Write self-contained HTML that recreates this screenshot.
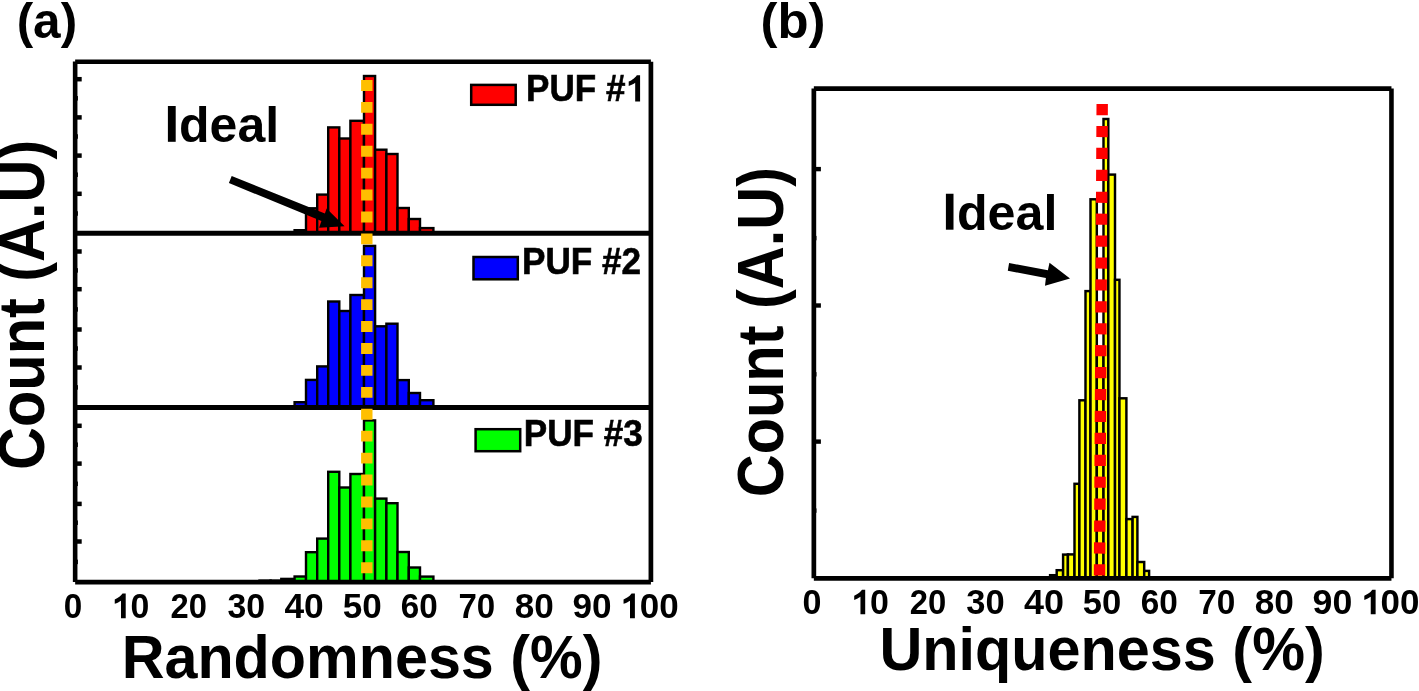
<!DOCTYPE html>
<html><head><meta charset="utf-8"><style>
html,body{margin:0;padding:0;background:#fff;width:1419px;height:691px;overflow:hidden}
svg{display:block;will-change:transform}
text{font-family:"Liberation Sans",sans-serif;font-weight:bold;font-kerning:none}
</style></head><body>
<svg width="1419" height="691" viewBox="0 0 1419 691">
<rect width="1419" height="691" fill="#fff"/>
<g fill="#ff0000" stroke="#000" stroke-width="2.4"><rect x="294.6" y="230.2" width="11.4" height="3.1"/><rect x="306" y="208.3" width="11.2" height="25"/><rect x="317.2" y="194.6" width="11" height="38.7"/><rect x="328.2" y="127.4" width="11.1" height="105.9"/><rect x="339.3" y="138.5" width="11.1" height="94.8"/><rect x="350.4" y="120.8" width="13.6" height="112.5"/><rect x="364" y="76" width="11.1" height="157.3"/><rect x="375.1" y="149.7" width="11.3" height="83.6"/><rect x="386.4" y="154" width="11.1" height="79.3"/><rect x="397.5" y="208" width="11.3" height="25.3"/><rect x="408.8" y="219" width="11.2" height="14.3"/><rect x="420" y="228.1" width="13.4" height="5.2"/></g>
<g fill="#0000ff" stroke="#000" stroke-width="2.4"><rect x="294.6" y="402.2" width="11.4" height="5.3"/><rect x="306" y="379.9" width="11.2" height="27.6"/><rect x="317.2" y="366.4" width="11" height="41.1"/><rect x="328.2" y="301.5" width="11.1" height="106"/><rect x="339.3" y="311" width="11.1" height="96.5"/><rect x="350.4" y="295" width="13.6" height="112.5"/><rect x="364" y="245.9" width="11.1" height="161.6"/><rect x="375.1" y="326.3" width="11.3" height="81.2"/><rect x="386.4" y="323.7" width="11.1" height="83.8"/><rect x="397.5" y="380.1" width="11.3" height="27.4"/><rect x="408.8" y="393" width="11.2" height="14.5"/><rect x="420" y="400.2" width="13.4" height="7.3"/></g>
<g fill="#00ff00" stroke="#000" stroke-width="2.4"><rect x="259.5" y="580.6" width="11.1" height="1.5"/><rect x="270.6" y="580.6" width="10.7" height="1.5"/><rect x="281.3" y="578.9" width="13.3" height="3.2"/><rect x="294.6" y="576.5" width="11.4" height="5.6"/><rect x="306" y="552.2" width="11.2" height="29.9"/><rect x="317.2" y="538.6" width="11" height="43.5"/><rect x="328.2" y="471.8" width="11.1" height="110.3"/><rect x="339.3" y="487.5" width="11.1" height="94.6"/><rect x="350.4" y="474" width="13.6" height="108.1"/><rect x="364" y="420.4" width="11.1" height="161.7"/><rect x="375.1" y="498.6" width="11.3" height="83.5"/><rect x="386.4" y="503.2" width="11.1" height="78.9"/><rect x="397.5" y="552" width="11.3" height="30.1"/><rect x="408.8" y="567.5" width="11.2" height="14.6"/><rect x="420" y="576.6" width="13.4" height="5.5"/></g>
<g stroke="#000" fill="none">
<line x1="75.15" y1="61.5" x2="75.15" y2="582.1" stroke-width="4.6"/>
<line x1="75.15" y1="61.7" x2="650.9" y2="61.7" stroke-width="4.6"/>
<line x1="650.9" y1="61.7" x2="650.9" y2="582.1" stroke-width="4.7"/>
<line x1="75.15" y1="582.1" x2="650.9" y2="582.1" stroke-width="4.9"/>
<line x1="75" y1="233.3" x2="651" y2="233.3" stroke-width="5"/>
<line x1="75" y1="407.5" x2="651" y2="407.5" stroke-width="5"/>
<line x1="75" y1="79.2" x2="81.7" y2="79.2" stroke-width="4.5"/>
<line x1="75" y1="117.4" x2="81.7" y2="117.4" stroke-width="4.5"/>
<line x1="75" y1="155.6" x2="81.7" y2="155.6" stroke-width="4.5"/>
<line x1="75" y1="193.8" x2="81.7" y2="193.8" stroke-width="4.5"/>
<line x1="75" y1="251.5" x2="81.7" y2="251.5" stroke-width="4.5"/>
<line x1="75" y1="289.2" x2="81.7" y2="289.2" stroke-width="4.5"/>
<line x1="75" y1="329.5" x2="81.7" y2="329.5" stroke-width="4.5"/>
<line x1="75" y1="367.5" x2="81.7" y2="367.5" stroke-width="4.5"/>
<line x1="75" y1="425.8" x2="81.7" y2="425.8" stroke-width="4.5"/>
<line x1="75" y1="463.6" x2="81.7" y2="463.6" stroke-width="4.5"/>
<line x1="75" y1="503.9" x2="81.7" y2="503.9" stroke-width="4.5"/>
<line x1="75" y1="541.5" x2="81.7" y2="541.5" stroke-width="4.5"/>
<line x1="75" y1="98.3" x2="77.9" y2="98.3" stroke-width="4.5"/>
<line x1="75" y1="136.5" x2="77.9" y2="136.5" stroke-width="4.5"/>
<line x1="75" y1="174.7" x2="77.9" y2="174.7" stroke-width="4.5"/>
<line x1="75" y1="213.5" x2="77.9" y2="213.5" stroke-width="4.5"/>
<line x1="75" y1="270.4" x2="77.9" y2="270.4" stroke-width="4.5"/>
<line x1="75" y1="309.4" x2="77.9" y2="309.4" stroke-width="4.5"/>
<line x1="75" y1="348.5" x2="77.9" y2="348.5" stroke-width="4.5"/>
<line x1="75" y1="387.4" x2="77.9" y2="387.4" stroke-width="4.5"/>
<line x1="75" y1="444.7" x2="77.9" y2="444.7" stroke-width="4.5"/>
<line x1="75" y1="483.8" x2="77.9" y2="483.8" stroke-width="4.5"/>
<line x1="75" y1="522.7" x2="77.9" y2="522.7" stroke-width="4.5"/>
<line x1="75" y1="561.9" x2="77.9" y2="561.9" stroke-width="4.5"/>
</g>
<line x1="366.8" y1="80" x2="366.8" y2="582" stroke="#ffbf00" stroke-width="11.4" stroke-dasharray="10.9 11.02"/>
<g fill="#ffff00" stroke="#000" stroke-width="2.45"><rect x="1050.1" y="575.2" width="6.6" height="3.15"/><rect x="1056.7" y="570.2" width="6.4" height="8.15"/><rect x="1063.1" y="554.6" width="4.8" height="23.75"/><rect x="1067.9" y="554.4" width="6.6" height="23.95"/><rect x="1074.5" y="483.8" width="4.9" height="94.55"/><rect x="1079.4" y="400.3" width="6.1" height="178.05"/><rect x="1085.5" y="291.1" width="5" height="287.25"/><rect x="1090.5" y="199.3" width="6.3" height="379.05"/><rect x="1096.8" y="350" width="6.7" height="228.35"/><rect x="1103.5" y="119" width="4.8" height="459.35"/><rect x="1108.3" y="174.6" width="6.7" height="403.75"/><rect x="1115" y="279.8" width="4.45" height="298.55"/><rect x="1119.45" y="398.3" width="6.95" height="180.05"/><rect x="1126.4" y="519.1" width="6.2" height="59.25"/><rect x="1132.6" y="516.9" width="4.8" height="61.45"/><rect x="1137.4" y="562" width="6.8" height="16.35"/><rect x="1144.2" y="570.9" width="4.9" height="7.45"/></g>
<line x1="1102.2" y1="104" x2="1099.5" y2="578" stroke="#ff0000" stroke-width="11.4" stroke-dasharray="11.2 10.72"/>
<g stroke="#000" fill="none">
<line x1="813.85" y1="88.55" x2="813.85" y2="578.35" stroke-width="4.7"/>
<line x1="813.85" y1="88.55" x2="1391.45" y2="88.55" stroke-width="4.7"/>
<line x1="1391.45" y1="88.55" x2="1391.45" y2="578.35" stroke-width="4.6"/>
<line x1="813.85" y1="578.35" x2="1391.45" y2="578.35" stroke-width="4.8"/>
<line x1="814" y1="169.1" x2="820.9" y2="169.1" stroke-width="4.4"/>
<line x1="814" y1="305.5" x2="820.9" y2="305.5" stroke-width="4.4"/>
<line x1="814" y1="441.6" x2="820.9" y2="441.6" stroke-width="4.4"/>
<line x1="814" y1="238.1" x2="816.5" y2="238.1" stroke-width="4.4"/>
<line x1="814" y1="374.3" x2="816.5" y2="374.3" stroke-width="4.4"/>
<line x1="814" y1="510.6" x2="816.5" y2="510.6" stroke-width="4.4"/>
</g>
<polygon points="231.7,175.9 324.9,213.5 326.6,208.6 344.6,226.3 319.1,227.7 321.4,221 228.9,183"/>
<polygon points="1009.1,263 1047.9,270.3 1049.5,262.7 1070,278.5 1045,285.7 1045.9,278 1007.8,270.7"/>
<g stroke="#000" stroke-width="2.5">
<rect x="471.2" y="84.9" width="44.5" height="19.9" fill="#ff0000"/>
<rect x="473.5" y="257" width="44.3" height="22.3" fill="#0000ff"/>
<rect x="475.6" y="429.2" width="44.6" height="22" fill="#00ff00"/>
</g>
<g font-family="Liberation Sans" font-weight="bold" fill="#000"><g transform="translate(16.63 37.8) scale(0.9866 1)" font-size="50.2"><text x="0">(a)</text></g><g transform="translate(760.47 37.8) scale(1.0136 1)" font-size="50.2"><text x="0">(b)</text></g><rect x="167.9" y="106" width="7.8" height="35.8"/><g transform="translate(179.05 141.8) scale(1.0126 1)" font-size="49.4"><text x="0">deal</text></g><rect x="945.9" y="193.75" width="7.6" height="35.95"/><g transform="translate(956.94 229.7) scale(1.0128 1)" font-size="49.6"><text x="0">deal</text></g><g transform="translate(526.05 101.4) scale(0.9356 1)" font-size="37.5" stroke="#000" stroke-width="0.6"><text x="0">PUF #</text><path transform="translate(106.27 0) scale(0.01831 -0.01831)" d="M567 0L853 0L853 1430L660 1430C610 1346 420 1170 189 1083L189 839C330 883 470 946 567 1015Z"/></g><g transform="translate(522.05 273.8) scale(0.9373 1)" font-size="37.5" stroke="#000" stroke-width="0.6"><text x="0">PUF #2</text></g><g transform="translate(523.75 445.5) scale(0.9362 1)" font-size="37.5" stroke="#000" stroke-width="0.6"><text x="0">PUF #3</text></g><g transform="translate(63.79 618.2) scale(0.9438 1)" font-size="35.2"><text x="0">0</text></g><g transform="translate(802.55 614.3) scale(0.9677 1)" font-size="35.2"><text x="0">0</text></g><g transform="translate(111.63 618.2) scale(0.9605 1)" font-size="35.2"><path transform="translate(0 0) scale(0.01719 -0.01719)" d="M567 0L853 0L853 1430L660 1430C610 1346 420 1170 189 1083L189 839C330 883 470 946 567 1015Z"/><text x="19.58">0</text></g><g transform="translate(851.07 614.3) scale(0.9634 1)" font-size="35.2"><path transform="translate(0 0) scale(0.01719 -0.01719)" d="M567 0L853 0L853 1430L660 1430C610 1346 420 1170 189 1083L189 839C330 883 470 946 567 1015Z"/><text x="19.58">0</text></g><g transform="translate(170.62 618.2) scale(0.9290 1)" font-size="35.2"><text x="0">20</text></g><g transform="translate(909.76 614.3) scale(0.9318 1)" font-size="35.2"><text x="0">20</text></g><g transform="translate(227.43 618.2) scale(0.9593 1)" font-size="35.2"><text x="0">30</text></g><g transform="translate(966.31 614.3) scale(0.9810 1)" font-size="35.2"><text x="0">30</text></g><g transform="translate(284.42 618.2) scale(1.0033 1)" font-size="35.2"><text x="0">40</text></g><g transform="translate(1023.96 614.3) scale(1.0221 1)" font-size="35.2"><text x="0">40</text></g><g transform="translate(342.87 618.2) scale(0.9965 1)" font-size="35.2"><text x="0">50</text></g><g transform="translate(1082.64 614.3) scale(0.9829 1)" font-size="35.2"><text x="0">50</text></g><g transform="translate(400.68 618.2) scale(0.9445 1)" font-size="35.2"><text x="0">60</text></g><g transform="translate(1140.63 614.3) scale(0.9473 1)" font-size="35.2"><text x="0">60</text></g><g transform="translate(458.38 618.2) scale(0.9393 1)" font-size="35.2"><text x="0">70</text></g><g transform="translate(1198.22 614.3) scale(0.9476 1)" font-size="35.2"><text x="0">70</text></g><g transform="translate(514.64 618.2) scale(0.9975 1)" font-size="35.2"><text x="0">80</text></g><g transform="translate(1254.68 614.3) scale(1.0002 1)" font-size="35.2"><text x="0">80</text></g><g transform="translate(572.38 618.2) scale(0.9976 1)" font-size="35.2"><text x="0">90</text></g><g transform="translate(1312.56 614.3) scale(1.0140 1)" font-size="35.2"><text x="0">90</text></g><g transform="translate(620.32 618.2) scale(0.9938 1)" font-size="35.2"><path transform="translate(0 0) scale(0.01719 -0.01719)" d="M567 0L853 0L853 1430L660 1430C610 1346 420 1170 189 1083L189 839C330 883 470 946 567 1015Z"/><text x="19.58">00</text></g><g transform="translate(1361.08 614.3) scale(0.9919 1)" font-size="35.2"><path transform="translate(0 0) scale(0.01719 -0.01719)" d="M567 0L853 0L853 1430L660 1430C610 1346 420 1170 189 1083L189 839C330 883 470 946 567 1015Z"/><text x="19.58">00</text></g><g transform="translate(121.63 677.9) scale(0.9626 1)" font-size="61.6"><text x="0">Randomness (%)</text></g><g transform="translate(879.43 670.1) scale(0.9576 1)" font-size="62"><text x="0">Uniqueness (%)</text></g><g transform="translate(43.7 469.94) rotate(-90) scale(0.9293 1)" font-size="64"><text x="0">Count (A.U)</text></g><g transform="translate(782.7 497.24) rotate(-90) scale(0.9293 1)" font-size="64"><text x="0">Count (A.U)</text></g></g>
</svg>
</body></html>
